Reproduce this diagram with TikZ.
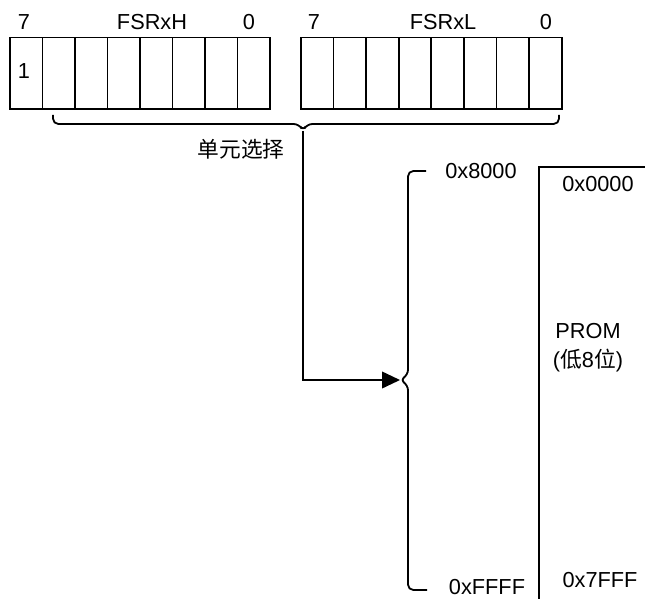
\documentclass[tikz,border=0pt]{standalone}
\usepackage{fontspec}
\setmainfont{Liberation Sans}
\newfontfamily\cjk{Noto Sans CJK SC}
\usetikzlibrary{positioning,arrows.meta}

\begin{document}
\begin{tikzpicture}[x=0.75pt,y=0.75pt,line width=1.35pt,
  font=\fontsize{16.3}{19}\selectfont,
  cell/.style={rectangle,draw=black,inner sep=0pt,minimum width=24.4pt,minimum height=53.3pt,anchor=north west},
  lbl/.style={inner sep=0pt,anchor=base},
  arr/.style={-{Triangle[length=13.5pt,width=12.5pt]}}
]
\useasboundingbox (0,0) rectangle (645,-599);
% registers
\foreach \i in {0,...,7} {
  \node[cell] (h\i) at ({9+32.5*\i},-36.7) {};
  \node[cell] (l\i) at ({300+32.6*\i},-36.7) {};
}
\node[lbl] (hmsb) at (24,-30) {7};
\node[lbl] (hname) at (152,-30) {FSRxH};
\node[lbl] (hlsb) at (249,-30) {0};
\node[lbl] (lmsb) at (314,-30) {7};
\node[lbl] (lname) at (443,-30) {FSRxL};
\node[lbl] (llsb) at (546,-30) {0};
\node[lbl] (one) at (24,-79) {1};
% unit select brace
\draw[rounded corners=4pt] (53,-115) -- (53,-124) -- (299,-124) -- (303,-131) -- (307,-124) -- (559,-124) -- (559,-115);
\coordinate (sel) at (303,-131);
\node[inner sep=0pt] (unit) at (241,-149) {\cjk 单元选择};
% address range brace
\draw[rounded corners=4pt] (426,-171) -- (408,-171) -- (408,-375) -- (400,-380) -- (408,-385) -- (408,-590) -- (427,-590);
\coordinate (rng) at (400,-380);
\node[lbl] (a8000) at (481,-178.5) {0x8000};
\node[lbl] (affff) at (487,-594) {0xFFFF};
\draw[arr] (sel) |- (rng);
% PROM
\draw (645,-167) -- (539,-167) -- (539,-599);
\node[lbl] (a0000) at (598,-191.5) {0x0000};
\node[lbl] (prom) at (588,-338) {PROM};
\node[lbl] (low) at (588,-367) {(\cjk 低\rmfamily 8\cjk 位\rmfamily)};
\node[lbl] (a7fff) at (600,-587) {0x7FFF};
\end{tikzpicture}
\end{document}
